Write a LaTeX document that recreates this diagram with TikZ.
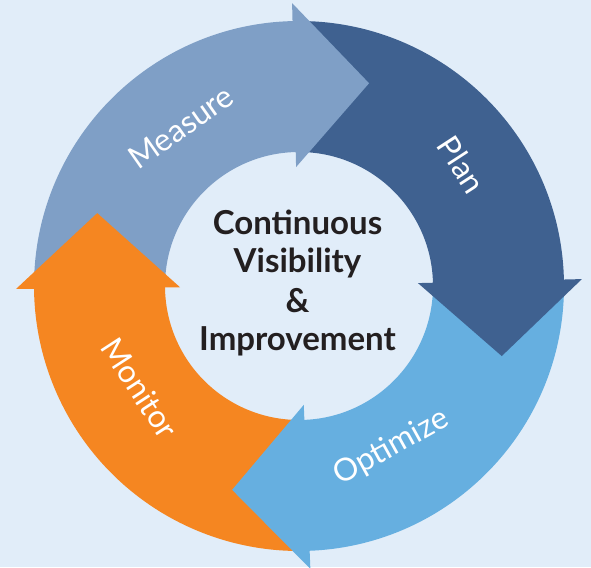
\documentclass[tikz,border=0pt]{standalone}
\usepackage{fontspec}
\setmainfont{Lato}
\usetikzlibrary{calc}
\definecolor{bgc}{HTML}{E1EDF9}
\definecolor{measc}{HTML}{7F9FC6}
\definecolor{planc}{HTML}{3F6190}
\definecolor{optc}{HTML}{66AFE0}
\definecolor{monc}{HTML}{F58621}
\definecolor{txtc}{HTML}{231F20}
\newcommand\ringbody[3]{%
  \fill[#3] (#1:265) arc[start angle=#1,end angle=#2,radius=265]
    -- (#2:134) arc[start angle=#2,end angle=#1,radius=134] -- cycle;}
\newcommand\ringhead[2]{%
  \fill[#2] (#1:119) -- (#1:283) -- ($(#1:201)+(#1-90:75)$) -- cycle;}
\begin{document}
\begin{tikzpicture}[x=1pt,y=1pt,
  lab/.style={text=white,font=\fontsize{31.5}{36}\selectfont,inner sep=0pt},
  ctext/.style={text=txtc,font=\bfseries\fontsize{33}{38}\selectfont,anchor=base,inner sep=0pt}]
\useasboundingbox[fill=bgc] (-299,-281) rectangle (292,286);
% bodies (each starts and ends under a head, hiding the seams)
\ringbody{179.6}{90.4}{measc}
\ringbody{90.4}{0.4}{planc}
\ringbody{0.4}{-88.7}{optc}
\ringbody{-88.7}{-180.4}{monc}
% heads
\ringhead{91.4}{measc}
\ringhead{1.4}{planc}
\ringhead{-87.7}{optc}
\ringhead{180.6}{monc}
% labels
\node[lab,rotate=35] (measure) at (126.6:198) {Measure};
\node[lab,rotate=-57] (plan) at (36.7:203) {Plan};
\node[lab,rotate=29] (optimize) at (-60.2:186) {Optimize};
\node[lab,rotate=-57] (monitor) at (212.7:189) {Monitor};
% centre text
\node[ctext] (c1) at (-1.5,51) {Continuous};
\node[ctext] (c2) at (-1.5,13) {Visibility};
\node[ctext] (c3) at (-1.5,-27) {\&};
\node[ctext] (c4) at (-1.5,-64) {Improvement};
\end{tikzpicture}
\end{document}
